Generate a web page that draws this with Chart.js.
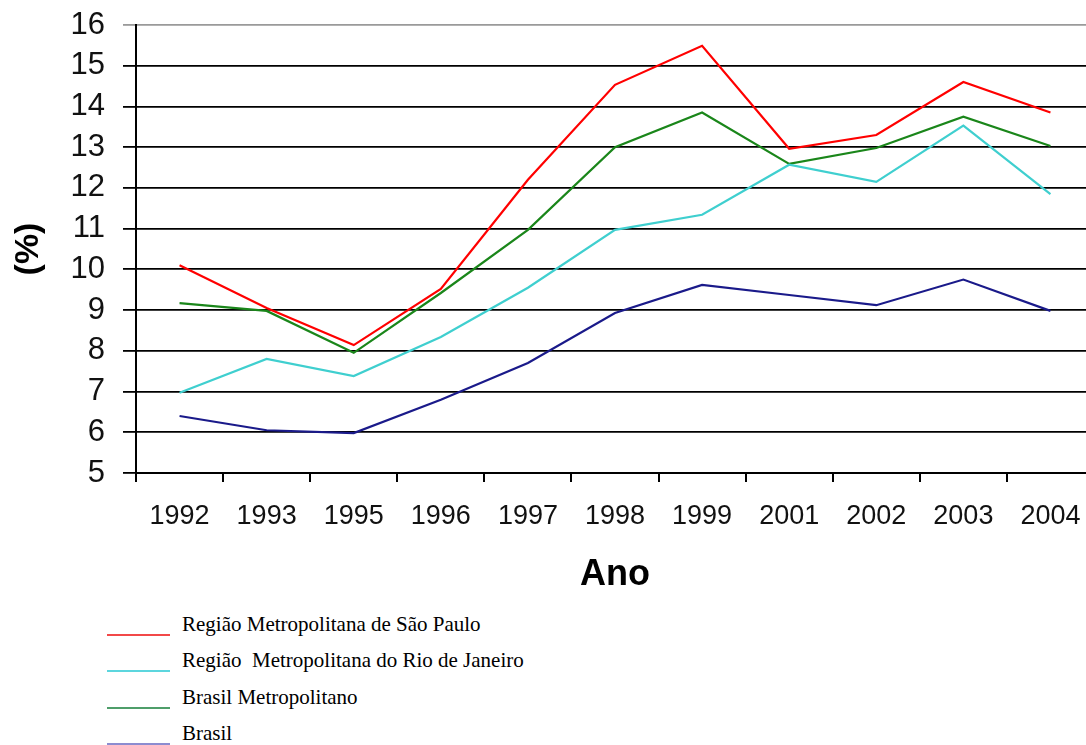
<!DOCTYPE html>
<html>
<head>
<meta charset="utf-8">
<script src="https://cdn.jsdelivr.net/npm/chart.js@4/dist/chart.umd.min.js"></script>
<style>
  html, body { margin: 0; padding: 0; background: #fff; overflow: hidden; }
  #wrap { position: relative; width: 1086px; height: 745px; overflow: hidden; }
  #plot { position: absolute; left: 0; top: 0; }
  #legend { position: absolute; left: 0; top: 0; font-family: "Liberation Serif", "Times New Roman", serif; font-size: 21px; color: #000; }
  .item { position: absolute; left: 107px; white-space: pre; }
  .item span.ln { position: absolute; left: 0; width: 63px; height: 2px; }
  .item span.tx { position: absolute; left: 75px; }
</style>
</head>
<body>
<div id="wrap">
  <canvas id="plot" width="1100" height="600"></canvas>
  <div id="legend"></div>
</div>
<script>
const years = ['1992', '1993', '1995', '1996', '1997', '1998', '1999', '2001', '2002', '2003', '2004'];

const saoPaulo = [10.1, 9.05, 8.14, 9.52, 12.2, 14.53, 15.49, 12.96, 13.3, 14.6, 13.85];
const rioJaneiro = [6.97, 7.8, 7.38, 8.34, 9.55, 10.97, 11.34, 12.57, 12.15, 13.53, 11.85];
const brasilMetro = [9.17, 8.98, 7.95, 9.42, 10.97, 13.0, 13.85, 12.59, 12.98, 13.75, 13.03];
const brasil = [6.4, 6.05, 5.98, 6.8, 7.7, 8.93, 9.62, 9.37, 9.12, 9.75, 8.98];

const seriesNames = [
    'Região Metropolitana de São Paulo',
    'Região  Metropolitana do Rio de Janeiro',
    'Brasil Metropolitano',
    'Brasil'
];
const seriesColors = ['#ff0000', '#3fcfcf', '#1a861a', '#1a1a8a'];
const legendColors = ['#f24848', '#5cd6de', '#4f9e6a', '#8c8cd0'];

const yTicks = [5, 6, 7, 8, 9, 10, 11, 12, 13, 14, 15, 16];

const allSeries = [saoPaulo, rioJaneiro, brasilMetro, brasil];

const ctx = document.getElementById('plot').getContext('2d');

new Chart(ctx, {
    type: 'line',
    data: {
        labels: years,
        datasets: allSeries.map((vals, i) => ({
            label: seriesNames[i],
            data: vals,
            borderColor: seriesColors[i],
            borderWidth: 2.2,
            pointRadius: 0,
            tension: 0,
            fill: false
        }))
    },
    options: {
        responsive: false,
        animation: false,
        layout: { padding: { top: 25, right: 6, left: 0, bottom: 0 } },
        plugins: {
            legend: { display: false },
            tooltip: { enabled: false }
        },
        scales: {
            x: {
                offset: true,
                grid: {
                    offset: true,
                    drawOnChartArea: false,
                    drawTicks: true,
                    tickLength: 9,
                    color: '#000',
                    lineWidth: 2
                },
                border: { display: true, color: '#000', width: 2 },
                ticks: {
                    color: '#111',
                    padding: 18,
                    autoSkip: false,
                    maxRotation: 0,
                    font: { family: 'Liberation Sans, Arial, sans-serif', size: 27 }
                },
                title: {
                    display: true,
                    text: 'Ano',
                    color: '#000',
                    padding: { top: 0, bottom: 3 },
                    font: { family: 'Liberation Sans, Arial, sans-serif', size: 36, weight: 'bold' }
                },
                afterFit: (scale) => {
                    scale.height = 127;
                    scale.paddingLeft = 0;
                    scale.paddingRight = 0;
                }
            },
            y: {
                min: 5,
                max: 16,
                afterBuildTicks: (scale) => { scale.ticks = yTicks.map(v => ({ value: v })); },
                grid: {
                    color: (c) => (c.tick && c.tick.value === 16 ? '#9a9a9a' : '#000'),
                    lineWidth: 1.8,
                    tickLength: 13
                },
                border: { display: true, color: '#000', width: 2 },
                ticks: {
                    color: '#111',
                    padding: 18,
                    autoSkip: false,
                    font: { family: 'Liberation Sans, Arial, sans-serif', size: 31 }
                },
                title: {
                    display: true,
                    text: '(%)',
                    color: '#000',
                    padding: { top: 8, bottom: 0 },
                    font: { family: 'Liberation Sans, Arial, sans-serif', size: 34, weight: 'bold' }
                },
                afterFit: (scale) => {
                    scale.width = 136;
                    scale.paddingTop = 0;
                    scale.paddingBottom = 0;
                }
            }
        }
    }
});

// legend below the plot
const legend = document.getElementById('legend');
const rowTops = [617, 653, 690, 726];
seriesNames.forEach((name, i) => {
    const item = document.createElement('div');
    item.className = 'item';
    item.style.top = rowTops[i] + 'px';
    const ln = document.createElement('span');
    ln.className = 'ln';
    ln.style.background = legendColors[i];
    ln.style.top = '17px';
    const tx = document.createElement('span');
    tx.className = 'tx';
    tx.style.top = '-5px';
    tx.textContent = name;
    item.appendChild(ln);
    item.appendChild(tx);
    legend.appendChild(item);
});
</script>
</body>
</html>
